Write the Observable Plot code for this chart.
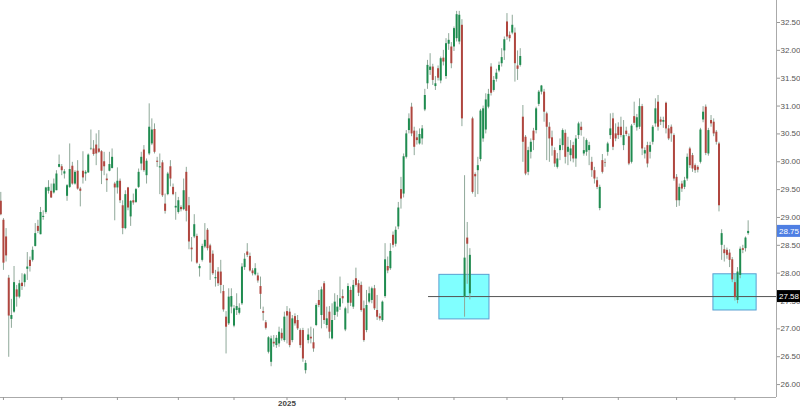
<!DOCTYPE html>
<html><head><meta charset="utf-8">
<script src="https://cdn.jsdelivr.net/npm/d3@7"></script>
<script src="https://cdn.jsdelivr.net/npm/@observablehq/plot@0.6"></script>
<style>
html,body{margin:0;padding:0;background:#fff;}
#chart svg{display:block;overflow:visible;}
</style>
</head><body><div id="chart"></div>
<script>
// OHLC per trading day (index 0 = first candle)
const openP = [29.29,28.95,28.65,27.91,27.17,27.30,27.70,27.57,27.82,27.83,28.07,28.23,28.23,28.48,28.84,28.69,29.00,29.09,29.47,29.47,29.44,29.48,29.90,29.91,29.78,29.38,29.54,29.92,29.60,29.83,29.51,29.83,29.78,29.80,30.23,30.23,30.30,30.23,30.18,30.00,29.69,29.83,29.88,29.60,29.53,29.65,29.21,28.80,29.53,29.01,29.30,29.27,29.54,29.96,30.21,29.75,30.14,30.32,30.58,30.01,29.89,29.98,29.24,29.41,29.91,29.54,29.17,29.09,29.18,29.14,29.81,29.21,28.45,28.65,28.66,28.08,28.23,28.47,28.77,28.49,28.34,27.90,28.02,28.02,27.67,27.21,27.09,27.39,27.05,27.33,27.28,27.45,28.10,28.38,28.30,28.04,27.97,27.95,27.76,27.31,27.11,26.58,26.40,26.76,26.70,26.73,26.92,26.79,27.31,27.30,26.79,27.22,27.15,26.97,26.97,26.25,26.79,26.85,26.75,27.06,27.51,27.24,27.81,27.06,27.30,26.82,27.24,27.30,27.39,27.58,26.98,27.46,27.69,27.39,27.90,27.81,27.78,27.36,26.97,27.48,27.51,27.72,27.33,27.22,27.15,27.58,28.12,28.08,28.68,28.52,28.83,29.50,29.42,30.08,30.56,30.98,30.55,30.43,30.32,30.41,30.93,31.40,31.64,31.70,31.35,31.67,31.45,31.86,31.53,32.11,32.06,32.06,32.21,32.15,32.45,27.57,28.63,27.63,30.77,29.77,29.84,30.04,30.41,30.57,30.98,31.70,31.28,31.48,31.63,31.76,31.99,32.51,32.27,32.31,32.31,31.72,31.73,30.80,30.44,29.81,30.17,30.55,30.56,31.03,31.25,31.25,30.86,30.62,30.43,30.20,29.90,30.20,30.29,30.51,30.17,30.11,30.29,30.05,30.47,30.62,30.14,30.17,30.20,29.99,29.84,29.66,29.16,30.02,29.98,30.17,30.47,30.77,30.50,30.62,30.62,30.29,30.55,30.45,29.99,30.81,30.61,30.62,30.99,30.14,30.29,30.17,30.35,30.68,31.07,30.75,30.71,31.05,30.59,30.62,30.47,29.72,29.30,29.60,29.54,29.69,30.23,30.11,29.93,29.90,29.99,30.75,30.98,30.14,30.74,30.71,30.53,30.32,28.50,28.42,28.41,28.36,28.24,27.83,27.51,27.96,28.44,28.44,28.71];
const highP = [29.45,28.98,28.80,27.96,27.53,28.12,27.78,27.87,27.99,27.99,28.37,28.29,28.47,28.89,28.95,29.18,29.12,29.54,29.66,29.60,29.69,29.84,30.12,29.95,29.86,29.59,30.32,29.99,29.84,30.02,29.54,30.18,29.84,30.14,30.57,30.38,30.50,30.56,30.20,30.17,29.78,30.17,30.23,29.63,29.89,29.69,29.30,29.48,29.54,29.30,29.42,29.52,29.87,30.17,30.29,30.05,31.04,30.77,30.68,30.08,30.14,30.02,29.42,29.81,30.02,29.60,29.45,29.36,29.21,29.69,29.90,29.36,28.64,29.05,28.70,28.16,28.52,28.89,28.80,28.52,28.40,28.05,28.10,28.23,27.78,27.31,27.72,27.72,27.42,27.63,27.45,28.17,28.35,28.53,28.36,28.08,28.17,28.00,27.93,27.39,27.15,26.86,26.87,26.88,26.88,27.03,27.00,27.30,27.40,27.36,27.24,27.27,27.24,27.00,27.01,26.43,27.00,27.03,27.00,27.45,27.69,27.75,27.85,27.39,27.40,27.45,27.63,27.60,27.93,27.70,27.39,27.81,27.75,27.87,28.09,27.87,27.84,27.50,27.69,27.75,27.75,27.78,27.60,27.27,27.50,28.53,28.29,28.53,28.74,28.83,29.27,29.72,30.14,30.56,30.86,31.05,30.62,30.55,30.59,30.65,31.30,31.82,31.94,31.75,31.53,31.72,31.88,32.00,32.21,32.30,32.14,32.42,32.70,32.70,32.55,29.75,28.91,28.44,30.80,29.80,30.08,30.94,31.00,31.22,31.30,31.76,31.53,31.66,31.79,32.03,32.24,32.66,32.33,32.63,32.40,31.99,32.03,31.01,30.47,30.26,30.41,30.60,30.98,31.28,31.37,31.30,30.89,30.70,30.55,30.25,30.15,30.41,30.59,30.57,30.44,30.38,30.35,30.47,30.71,30.71,30.44,30.41,30.35,30.08,29.90,29.72,29.58,30.13,30.05,30.35,30.86,30.87,30.68,30.70,30.80,30.74,30.62,30.50,30.67,31.07,30.85,31.13,31.03,30.25,30.35,30.35,30.65,31.13,31.19,30.80,30.80,31.07,30.65,30.66,30.50,29.77,29.60,29.65,29.72,30.14,30.26,30.15,29.96,29.93,30.60,30.99,31.02,30.60,30.83,30.77,30.56,30.35,28.78,28.50,28.45,28.42,28.28,27.98,28.10,28.47,28.50,28.65,28.94];
const lowP = [29.03,28.05,28.20,26.49,27.01,27.28,27.39,27.54,27.69,27.75,27.87,28.02,28.20,28.47,28.71,28.69,28.95,29.06,29.42,29.34,29.42,29.48,29.89,29.75,29.69,29.29,29.52,29.58,29.58,29.49,29.19,29.60,29.65,29.79,30.20,30.10,29.93,30.15,29.59,29.75,29.45,29.82,29.87,28.94,29.42,29.25,28.69,28.78,29.12,28.84,29.22,29.25,29.52,29.84,29.81,29.60,30.11,30.29,30.14,29.90,29.41,29.36,29.06,29.39,29.55,29.39,28.95,29.06,29.10,29.12,28.92,28.42,28.20,28.62,28.16,27.93,28.20,28.44,28.40,27.87,27.96,27.75,27.76,27.63,27.30,26.55,27.06,27.27,27.02,27.24,27.25,27.42,28.05,28.28,28.02,27.95,27.95,27.82,27.35,27.14,26.98,26.55,26.32,26.67,26.65,26.67,26.78,26.76,26.73,26.66,26.75,27.05,26.97,26.65,26.40,26.19,26.73,26.73,26.58,27.04,27.38,27.00,27.08,27.00,26.82,26.80,27.15,27.21,27.33,27.45,26.95,27.27,27.40,27.35,27.75,27.58,27.30,26.76,26.93,27.45,27.45,27.33,27.15,27.14,27.12,27.55,27.99,28.05,28.45,28.47,28.78,29.15,29.35,30.05,30.50,30.45,30.11,30.30,30.30,30.30,30.90,31.30,31.55,31.37,31.28,31.45,31.40,31.72,31.48,32.00,31.67,31.98,32.15,32.10,30.63,27.21,27.80,27.52,29.42,29.36,29.41,30.00,30.35,30.50,30.95,31.18,31.25,31.43,31.60,31.70,31.82,32.18,32.15,32.28,31.43,31.46,31.70,29.99,29.75,29.75,30.05,30.20,30.50,30.99,31.20,30.71,30.02,29.99,30.10,29.90,29.87,30.02,30.20,29.96,29.93,30.00,29.98,29.90,30.40,30.46,30.10,30.10,29.93,29.72,29.60,29.50,29.12,29.78,29.90,30.10,30.40,30.20,30.36,30.40,30.43,30.20,30.45,29.93,29.96,30.65,30.55,30.58,30.11,30.05,29.89,30.05,30.30,30.62,30.55,30.65,30.60,30.50,30.38,30.35,29.65,29.18,29.20,29.45,29.50,29.65,29.88,29.81,29.79,29.80,29.96,30.70,30.11,30.10,30.62,30.45,30.30,29.10,28.23,28.20,28.25,28.10,27.83,27.50,27.45,27.90,28.35,28.38,28.68];
const closeP = [29.05,28.18,28.31,27.23,27.24,27.83,27.57,27.81,27.76,27.97,28.11,28.12,28.41,28.71,28.75,29.09,29.02,29.53,29.54,29.35,29.60,29.78,29.95,29.84,29.82,29.57,29.86,29.60,29.81,29.51,29.47,29.71,29.81,30.12,30.24,30.13,30.14,30.17,29.83,29.91,29.66,29.95,30.08,29.53,29.65,29.30,28.80,29.41,29.17,29.29,29.26,29.50,29.81,30.08,29.84,30.01,30.62,30.57,30.17,29.99,29.91,29.39,29.11,29.78,29.69,29.41,29.20,29.30,29.14,29.48,29.11,28.56,28.42,28.87,28.18,28.12,28.48,28.59,28.44,28.18,27.99,27.92,27.81,27.78,27.34,27.03,27.57,27.58,27.36,27.40,27.37,28.11,28.25,28.32,28.04,27.99,28.08,27.86,27.62,27.28,27.01,26.84,26.82,26.73,26.83,26.94,26.82,27.21,27.23,26.70,27.18,27.09,27.00,26.70,26.46,26.38,26.89,26.82,26.64,27.42,27.42,27.70,27.15,27.18,26.94,27.15,27.48,27.39,27.54,27.54,27.36,27.76,27.46,27.78,27.78,27.64,27.33,26.79,27.42,27.63,27.72,27.36,27.21,27.18,27.48,28.24,28.04,28.39,28.50,28.77,29.17,29.33,30.09,30.50,30.77,30.50,30.26,30.38,30.49,30.59,31.19,31.73,31.70,31.46,31.40,31.50,31.85,31.79,32.12,32.18,31.76,32.39,32.64,32.63,30.77,28.27,28.52,28.32,29.45,29.73,29.93,30.91,30.95,31.11,31.21,31.23,31.46,31.59,31.73,31.87,32.19,32.24,32.21,32.45,31.76,31.66,31.89,30.35,29.78,30.20,30.35,30.38,30.95,31.25,31.36,30.89,30.62,30.41,30.28,29.96,30.05,30.29,30.56,30.08,30.26,30.23,30.05,30.41,30.68,30.56,30.20,30.38,30.29,29.84,29.69,29.54,29.54,29.81,29.97,30.32,30.59,30.26,30.41,30.47,30.47,30.47,30.49,29.96,30.64,30.69,30.79,30.99,30.23,30.20,29.96,30.29,30.62,30.95,30.62,30.71,30.74,30.59,30.41,30.50,29.69,29.30,29.54,29.51,29.66,30.08,29.93,29.87,29.84,29.85,30.57,30.89,30.15,30.56,30.68,30.50,30.35,29.21,28.71,28.35,28.32,28.23,27.88,27.56,28.02,28.43,28.41,28.63,28.75];

// Axis ticks
const priceTicks = [26.00,26.50,27.00,27.50,28.00,28.50,29.00,29.50,30.00,30.50,31.00,31.50,32.00,32.50];
const monthTickIdx = [1,23,44,67,88,108,130,150,171,191,212,233,255,277];
const monthTickLabels = ["","","","","","2025","","","","","","","",""];

// Annotations
const levelPrice = 27.58;
const levelStartIdx = 161.4;
const lastPrice = 28.75;
const zoneStart = [165.5, 268.9];
const zoneEnd = [184.4, 285.2];
const zoneLow = [27.17, 27.33];
const zoneHigh = [27.97, 27.98];

const candles = openP.map((o, i) => ({i, o, h: highP[i], l: lowP[i], c: closeP[i]}));
const zones = zoneStart.map((s, k) => ({x1: s, x2: zoneEnd[k], y1: zoneLow[k], y2: zoneHigh[k]}));

const xDomain = [-0.11, 292.7];
const yDomain = [25.768, 32.895];
const GREEN = "#1f8c50", RED = "#b0463f";
const FONT = "Liberation Sans, Arial, sans-serif";

const chart = Plot.plot({
  width: 800, height: 408,
  marginLeft: 0, marginRight: 24, marginTop: 0, marginBottom: 11,
  style: {fontFamily: FONT, color: "#555", background: "#fff"},
  x: {type: "linear", domain: xDomain},
  y: {domain: yDomain},
  marks: [
    Plot.rect(zones, {x1: "x1", x2: "x2", y1: "y1", y2: "y2", fill: "#80ffff", stroke: "#5a9fd0", strokeWidth: 1}),
    Plot.ruleY([levelPrice], {x1: levelStartIdx, x2: xDomain[1], stroke: "#555", strokeWidth: 1}),
    Plot.ruleX(candles, {x: "i", y1: "l", y2: "h", stroke: "#8fa899", strokeWidth: 1}),
    Plot.ruleX(candles, {x: "i", y1: "o", y2: "c", stroke: d => d.c >= d.o ? GREEN : RED, strokeWidth: 2}),
    Plot.ruleX([xDomain[1]], {stroke: "#aaa"}),
    Plot.ruleY([yDomain[0]], {stroke: "#aaa"}),
    Plot.axisY({anchor: "right", ticks: priceTicks, tickFormat: d => d.toFixed(2), tickSize: 3, tickPadding: 1, fontSize: 8, stroke: "#999", fill: "#555"}),
    Plot.axisX({anchor: "bottom", ticks: monthTickIdx, tickFormat: d => monthTickLabels[monthTickIdx.indexOf(d)], tickSize: 3, tickPadding: 0, fontSize: 8, stroke: "#999", fill: "#444", fontWeight: "bold"})
  ]
});

document.getElementById("chart").appendChild(chart);

// price tags on the right axis
const ys = chart.scale("y");
const svg = d3.select(chart);
const tags = [{v: lastPrice, bg: "#4f7fe3"}, {v: levelPrice, bg: "#000"}];
for (const t of tags) {
  const y = ys.apply(t.v);
  const g = svg.append("g");
  g.append("rect").attr("x", 777).attr("y", y - 6).attr("width", 23).attr("height", 12).attr("fill", t.bg);
  g.append("text").attr("x", 779).attr("y", y).attr("dy", "0.35em").attr("fill", "#fff")
    .attr("text-anchor", "start").attr("font-size", 8).attr("font-family", FONT).text(t.v.toFixed(2));
}
</script>
</body></html>
